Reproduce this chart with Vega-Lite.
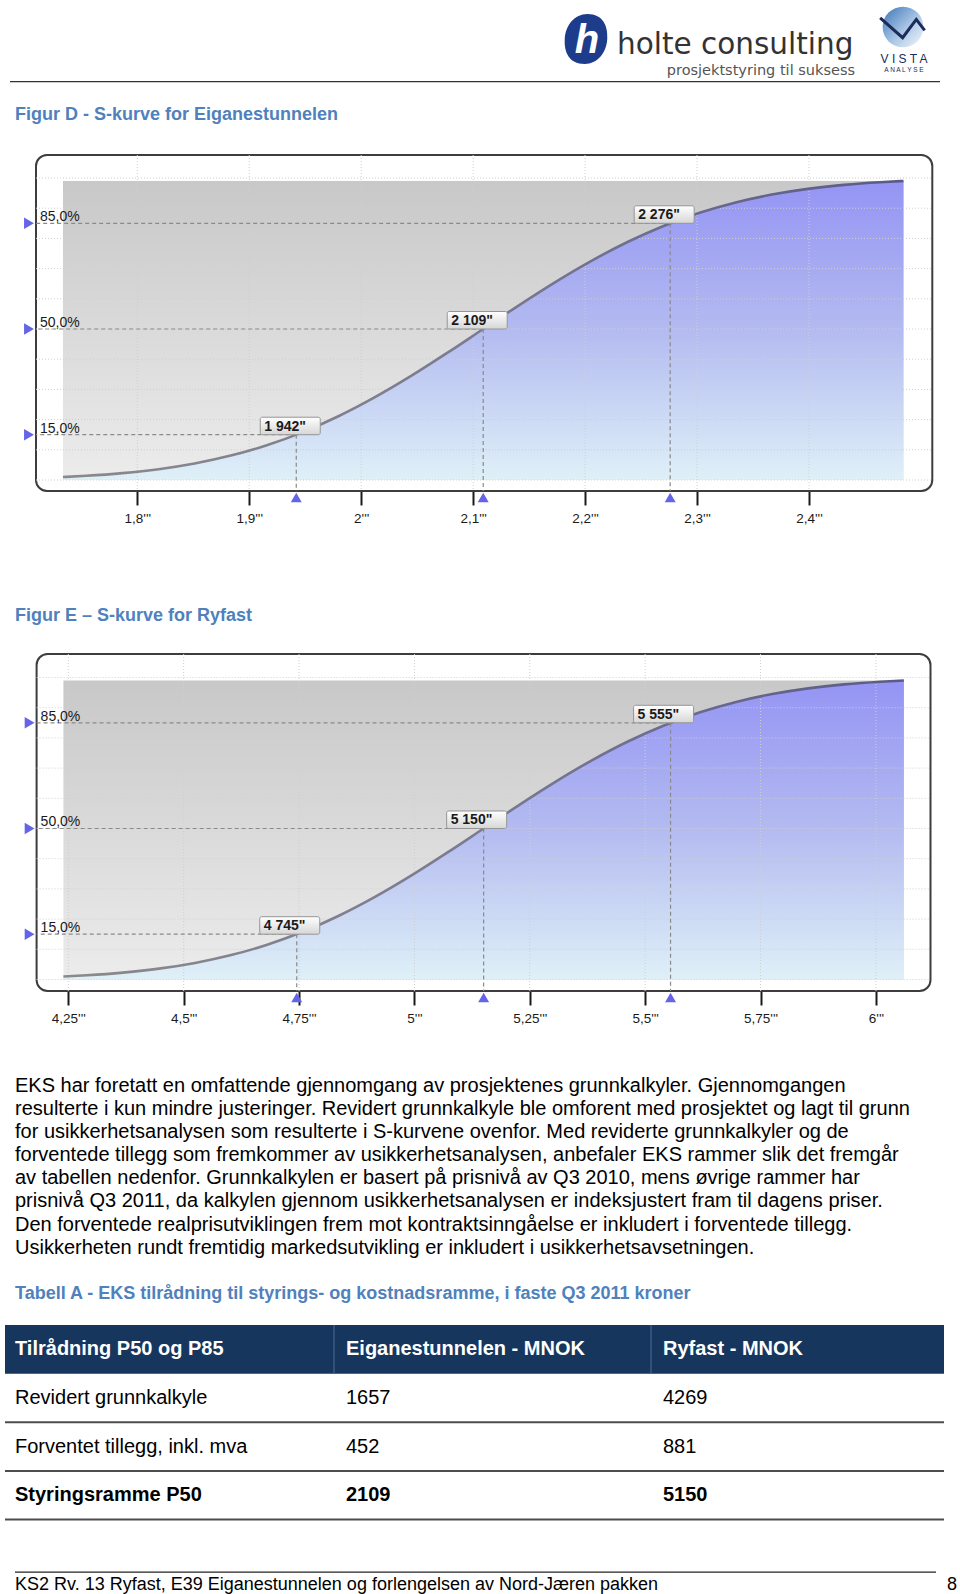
{
"$schema": "https://vega.github.io/schema/vega-lite/v6.json",
"background": "#ffffff",
"padding": 0,
"spacing": 0,
"bounds": "flush",
"config": {"view": {"stroke": null}, "font": "Liberation Sans"},
"datasets": {
  "curveD": [
    {"v":1733.6,"p":0.99},{"v":1754.6,"p":1.39},{"v":1786.8,"p":2.28},{"v":1819.0,"p":3.59},{"v":1851.2,"p":5.48},
    {"v":1883.5,"p":8.08},{"v":1915.7,"p":11.51},{"v":1947.9,"p":15.87},{"v":1980.1,"p":21.19},{"v":2012.3,"p":27.43},
    {"v":2044.6,"p":34.46},{"v":2076.8,"p":42.07},{"v":2109.0,"p":50.0},{"v":2141.2,"p":57.93},{"v":2173.4,"p":65.54},
    {"v":2205.7,"p":72.57},{"v":2237.9,"p":78.81},{"v":2270.1,"p":84.13},{"v":2302.3,"p":88.49},{"v":2334.5,"p":91.92},
    {"v":2366.8,"p":94.52},{"v":2399.0,"p":96.41},{"v":2431.2,"p":97.72},{"v":2463.4,"p":98.61},{"v":2484.4,"p":99.01}
  ],
  "curveE": [
    {"v":4239.4,"p":0.99},{"v":4290.2,"p":1.39},{"v":4368.4,"p":2.28},{"v":4446.6,"p":3.59},{"v":4524.7,"p":5.48},
    {"v":4602.9,"p":8.08},{"v":4681.0,"p":11.51},{"v":4759.2,"p":15.87},{"v":4837.4,"p":21.19},{"v":4915.5,"p":27.43},
    {"v":4993.7,"p":34.46},{"v":5071.8,"p":42.07},{"v":5150.0,"p":50.0},{"v":5228.2,"p":57.93},{"v":5306.3,"p":65.54},
    {"v":5384.5,"p":72.57},{"v":5462.6,"p":78.81},{"v":5540.8,"p":84.13},{"v":5619.0,"p":88.49},{"v":5697.1,"p":91.92},
    {"v":5775.3,"p":94.52},{"v":5853.4,"p":96.41},{"v":5931.6,"p":97.72},{"v":6009.8,"p":98.61},{"v":6060.6,"p":99.01}
  ],
  "markD": [
    {"p":15,"v":1942,"lab":"1 942\"","pl":"15,0%"},
    {"p":50,"v":2109,"lab":"2 109\"","pl":"50,0%"},
    {"p":85,"v":2276,"lab":"2 276\"","pl":"85,0%"}
  ],
  "markE": [
    {"p":15,"v":4745,"lab":"4 745\"","pl":"15,0%"},
    {"p":50,"v":5150,"lab":"5 150\"","pl":"50,0%"},
    {"p":85,"v":5555,"lab":"5 555\"","pl":"85,0%"}
  ],
  "gridY": [{"g":0},{"g":10},{"g":20},{"g":30},{"g":40},{"g":50},{"g":60},{"g":70},{"g":80},{"g":90},{"g":100}],
  "gridXD": [{"t":1800},{"t":1900},{"t":2000},{"t":2100},{"t":2200},{"t":2300},{"t":2400}],
  "gridXE": [{"t":4250},{"t":4500},{"t":4750},{"t":5000},{"t":5250},{"t":5500},{"t":5750},{"t":6000}],
  "para": [
    {"line":1,"t":"EKS har foretatt en omfattende gjennomgang av prosjektenes grunnkalkyler. Gjennomgangen"},
    {"line":2,"t":"resulterte i kun mindre justeringer. Revidert grunnkalkyle ble omforent med prosjektet og lagt til grunn"},
    {"line":3,"t":"for usikkerhetsanalysen som resulterte i S-kurvene ovenfor. Med reviderte grunnkalkyler og de"},
    {"line":4,"t":"forventede tillegg som fremkommer av usikkerhetsanalysen, anbefaler EKS rammer slik det fremgår"},
    {"line":5,"t":"av tabellen nedenfor. Grunnkalkylen er basert på prisnivå av Q3 2010, mens øvrige rammer har"},
    {"line":6,"t":"prisnivå Q3 2011, da kalkylen gjennom usikkerhetsanalysen er indeksjustert fram til dagens priser."},
    {"line":7,"t":"Den forventede realprisutviklingen frem mot kontraktsinngåelse er inkludert i forventede tillegg."},
    {"line":8,"t":"Usikkerheten rundt fremtidig markedsutvikling er inkludert i usikkerhetsavsetningen."}
  ],
  "cells": [
    {"row":"h","col":1,"t":"Tilrådning P50 og P85"},
    {"row":"h","col":2,"t":"Eiganestunnelen - MNOK"},
    {"row":"h","col":3,"t":"Ryfast - MNOK"},
    {"row":"r1","col":1,"t":"Revidert grunnkalkyle"},
    {"row":"r1","col":2,"t":"1657"},
    {"row":"r1","col":3,"t":"4269"},
    {"row":"r2","col":1,"t":"Forventet tillegg, inkl. mva"},
    {"row":"r2","col":2,"t":"452"},
    {"row":"r2","col":3,"t":"881"},
    {"row":"r3","col":1,"t":"Styringsramme P50"},
    {"row":"r3","col":2,"t":"2109"},
    {"row":"r3","col":3,"t":"5150"}
  ]
},
"vconcat": [
  {
    "width": 960, "height": 155,
    "layer": [
      {"data": {"values": [{"logo": "holte"}]},
       "mark": {"type": "point", "shape": "M 0.05 -1 C 0.7 -1 0.88 -0.5 0.85 0 C 0.82 0.55 0.45 1 -0.05 1 C -0.7 1 -0.88 0.5 -0.85 0 C -0.82 -0.55 -0.45 -1 0.05 -1 Z", "filled": true, "size": 2500, "color": "#1d3c8b", "opacity": 1, "x": 586, "y": 39},
       "encoding": {}},
      {"data": {"values": [{"t": "h"}]},
       "mark": {"type": "text", "x": 587, "y": 41, "align": "center", "baseline": "middle", "font": "Liberation Sans", "fontSize": 40, "fontWeight": "bold", "fontStyle": "italic", "color": "#ffffff"},
       "encoding": {"text": {"field": "t"}}},
      {"data": {"values": [{"t": "holte consulting"}]},
       "mark": {"type": "text", "x": 617, "y": 53.5, "align": "left", "baseline": "alphabetic", "font": "DejaVu Sans", "fontSize": 29.5, "color": "#333333"},
       "encoding": {"text": {"field": "t"}}},
      {"data": {"values": [{"t": "prosjektstyring til suksess"}]},
       "mark": {"type": "text", "x": 855, "y": 74.5, "align": "right", "baseline": "alphabetic", "font": "DejaVu Sans", "fontSize": 14.5, "color": "#555555"},
       "encoding": {"text": {"field": "t"}}},
      {"data": {"values": [{"logo": "vista"}]},
       "mark": {"type": "point", "shape": "circle", "filled": true, "size": 1660, "opacity": 1, "x": 903, "y": 27,
                "fill": {"gradient": "linear", "x1": 0, "y1": 0, "x2": 1, "y2": 1, "stops": [{"offset": 0, "color": "#3a74b8"}, {"offset": 0.55, "color": "#aac6e5"}, {"offset": 1, "color": "#f6f9fc"}]}},
       "encoding": {}},
      {"data": {"values": [{"logo": "va"}]},
       "mark": {"type": "point", "shape": "M -1.04 -0.44 L 0.03 0.51 L 0.68 -0.36 L 1.08 0.16", "filled": false, "size": 1764, "color": "#1c2b5a", "strokeWidth": 3, "opacity": 1, "x": 902, "y": 27},
       "encoding": {}},
      {"data": {"values": [{"t": "V I S T A"}]},
       "mark": {"type": "text", "x": 904, "y": 63, "align": "center", "baseline": "alphabetic", "font": "Liberation Sans", "fontSize": 12, "color": "#1c2b5a"},
       "encoding": {"text": {"field": "t"}}},
      {"data": {"values": [{"t": "A N A L Y S E"}]},
       "mark": {"type": "text", "x": 904, "y": 72, "align": "center", "baseline": "alphabetic", "font": "Liberation Sans", "fontSize": 6.5, "color": "#1c2b5a"},
       "encoding": {"text": {"field": "t"}}},
      {"data": {"values": [{"part": "headerline"}]},
       "mark": {"type": "rect", "fill": "#333333"},
       "encoding": {"x": {"value": 10}, "x2": {"value": 940}, "y": {"value": 81}, "y2": {"value": 82.3}}},
      {"data": {"values": [{"t": "Figur D - S-kurve for Eiganestunnelen"}]},
       "mark": {"type": "text", "x": 15, "y": 115, "align": "left", "baseline": "middle", "font": "Liberation Sans", "fontSize": 18, "fontWeight": "bold", "color": "#4f81bd"},
       "encoding": {"text": {"field": "t"}}}
    ]
  },
  {
    "width": 960, "height": 336,
    "layer": [
      {"data": {"name": "curveD"},
       "mark": {"type": "area", "opacity": 0},
       "encoding": {
         "x": {"field": "v", "type": "quantitative", "title": null,
               "scale": {"domain": [1677.36, 2534.89], "nice": false, "zero": false},
               "axis": {"values": [1800, 1900, 2000, 2100, 2200, 2300, 2400], "labelExpr": "replace(format(datum.value / 1000, '~g'), '.', ',') + \"'''\"", "domain": false, "grid": false, "tickSize": 14, "tickWidth": 2, "tickColor": "#1a1a1a", "labelFont": "Liberation Sans", "labelFontSize": 13.5, "labelColor": "#1a1a1a", "labelPadding": 6, "title": null, "labelOverlap": false, "labelFlush": false}},
         "y": {"field": "p", "type": "quantitative", "title": null, "scale": {"domain": [-3.64, 107.62], "nice": false, "zero": false}, "axis": null}
       }},
      {"data": {"values": [{"part": "frame"}]},
       "mark": {"type": "rect", "fill": "#ffffff", "stroke": "#3d3d3d", "strokeWidth": 2, "cornerRadius": 11},
       "encoding": {"x": {"value": 36}, "x2": {"value": 932.3}, "y": {"value": 0}, "y2": {"value": 336}}},
      {"data": {"name": "curveD"},
       "transform": [{"aggregate": [{"op": "min", "field": "v", "as": "lo"}, {"op": "max", "field": "v", "as": "hi"}, {"op": "max", "field": "p", "as": "top"}]}],
       "mark": {"type": "rect", "fill": {"gradient": "linear", "x1": 0, "y1": 0, "x2": 0, "y2": 1, "stops": [{"offset": 0, "color": "#c8c8c8"}, {"offset": 1, "color": "#ececec"}]}},
       "encoding": {"x": {"field": "lo", "type": "quantitative", "title": null}, "x2": {"field": "hi"}, "y": {"field": "top", "type": "quantitative", "title": null, "axis": null}, "y2": {"value": 325}}},
      {"data": {"name": "curveD"},
       "mark": {"type": "area", "interpolate": "monotone", "fill": {"gradient": "linear", "x1": 0, "y1": 0, "x2": 0, "y2": 1, "stops": [{"offset": 0, "color": "#9494f4"}, {"offset": 0.5, "color": "#b3bbf0"}, {"offset": 1, "color": "#dff0f8"}]}},
       "encoding": {"x": {"field": "v", "type": "quantitative", "title": null}, "y": {"field": "p", "type": "quantitative", "title": null, "axis": null}}},
      {"data": {"name": "gridXD"},
       "mark": {"type": "rule", "stroke": "#cfcfcf", "strokeDash": [1, 2], "strokeWidth": 1},
       "encoding": {"x": {"field": "t", "type": "quantitative", "title": null}}},
      {"data": {"name": "gridY"},
       "mark": {"type": "rule", "stroke": "#cfcfcf", "strokeDash": [1, 2], "strokeWidth": 1},
       "encoding": {"y": {"field": "g", "type": "quantitative", "title": null, "axis": null}, "x": {"value": 36}, "x2": {"value": 932.3}}},
      {"data": {"name": "curveD"},
       "mark": {"type": "line", "interpolate": "monotone", "strokeWidth": 2.6, "stroke": {"gradient": "linear", "x1": 0, "y1": 0, "x2": 1, "y2": 0, "stops": [{"offset": 0, "color": "#8a8a8a"}, {"offset": 0.5, "color": "#7a7a92"}, {"offset": 1, "color": "#5a5a88"}]}},
       "encoding": {"x": {"field": "v", "type": "quantitative", "title": null}, "y": {"field": "p", "type": "quantitative", "title": null, "axis": null}}},
      {"data": {"name": "markD"},
       "mark": {"type": "rule", "stroke": "#8a8a8a", "strokeDash": [4, 3], "strokeWidth": 1.2},
       "encoding": {"x": {"field": "v", "type": "quantitative", "title": null}, "x2": {"value": 36}, "y": {"field": "p", "type": "quantitative", "title": null, "axis": null}}},
      {"data": {"name": "markD"},
       "mark": {"type": "rule", "stroke": "#8a8a8a", "strokeDash": [4, 3], "strokeWidth": 1.2},
       "encoding": {"x": {"field": "v", "type": "quantitative", "title": null}, "y": {"field": "p", "type": "quantitative", "title": null, "axis": null}, "y2": {"value": 336}}},
      {"data": {"name": "markD"},
       "mark": {"type": "point", "shape": "triangle-right", "filled": true, "size": 130, "color": "#6464e8", "opacity": 1},
       "encoding": {"x": {"value": 29}, "y": {"field": "p", "type": "quantitative", "title": null, "axis": null}}},
      {"data": {"name": "markD"},
       "mark": {"type": "point", "shape": "triangle-up", "filled": true, "size": 120, "color": "#6464e8", "opacity": 1},
       "encoding": {"x": {"field": "v", "type": "quantitative", "title": null}, "y": {"value": 342.5}}},
      {"data": {"name": "markD"},
       "mark": {"type": "text", "align": "left", "baseline": "alphabetic", "dy": -2, "font": "Liberation Sans", "fontSize": 14, "color": "#1a1a1a"},
       "encoding": {"x": {"value": 40}, "y": {"field": "p", "type": "quantitative", "title": null, "axis": null}, "text": {"field": "pl"}}},
      {"data": {"name": "markD"},
       "mark": {"type": "rect", "stroke": "#959595", "strokeWidth": 1, "cornerRadius": 2, "xOffset": -36, "x2Offset": 24, "yOffset": -17.5, "y2Offset": 0,
                "fill": {"gradient": "linear", "x1": 0, "y1": 0, "x2": 0, "y2": 1, "stops": [{"offset": 0, "color": "#ffffff"}, {"offset": 1, "color": "#d6d6d6"}]}},
       "encoding": {"x": {"field": "v", "type": "quantitative", "title": null}, "x2": {"field": "v"}, "y": {"field": "p", "type": "quantitative", "title": null, "axis": null}, "y2": {"field": "p"}}},
      {"data": {"name": "markD"},
       "mark": {"type": "text", "align": "left", "baseline": "alphabetic", "dx": -32, "dy": -4, "font": "Liberation Sans", "fontSize": 14, "fontWeight": "bold", "color": "#1a1a1a"},
       "encoding": {"x": {"field": "v", "type": "quantitative", "title": null}, "y": {"field": "p", "type": "quantitative", "title": null, "axis": null}, "text": {"field": "lab"}}}
    ]
  },
  {
    "width": 960, "height": 163,
    "data": {"values": [{"t": "Figur E – S-kurve for Ryfast"}]},
    "mark": {"type": "text", "x": 15, "y": 125.3, "align": "left", "baseline": "middle", "font": "Liberation Sans", "fontSize": 18, "fontWeight": "bold", "color": "#4f81bd"},
    "encoding": {"text": {"field": "t"}}
  },
  {
    "width": 960, "height": 337,
    "layer": [
      {"data": {"name": "curveE"},
       "mark": {"type": "area", "opacity": 0},
       "encoding": {
         "x": {"field": "v", "type": "quantitative", "title": null,
               "scale": {"domain": [4102.0, 6182.2], "nice": false, "zero": false},
               "axis": {"values": [4250, 4500, 4750, 5000, 5250, 5500, 5750, 6000], "labelExpr": "replace(format(datum.value / 1000, '~g'), '.', ',') + \"'''\"", "domain": false, "grid": false, "tickSize": 14, "tickWidth": 2, "tickColor": "#1a1a1a", "labelFont": "Liberation Sans", "labelFontSize": 13.5, "labelColor": "#1a1a1a", "labelPadding": 6, "title": null, "labelOverlap": false, "labelFlush": false}},
         "y": {"field": "p", "type": "quantitative", "title": null, "scale": {"domain": [-3.81, 107.78], "nice": false, "zero": false}, "axis": null}
       }},
      {"data": {"values": [{"part": "frame"}]},
       "mark": {"type": "rect", "fill": "#ffffff", "stroke": "#3d3d3d", "strokeWidth": 2, "cornerRadius": 11},
       "encoding": {"x": {"value": 36.6}, "x2": {"value": 930.5}, "y": {"value": 0}, "y2": {"value": 337}}},
      {"data": {"name": "curveE"},
       "transform": [{"aggregate": [{"op": "min", "field": "v", "as": "lo"}, {"op": "max", "field": "v", "as": "hi"}, {"op": "max", "field": "p", "as": "top"}]}],
       "mark": {"type": "rect", "fill": {"gradient": "linear", "x1": 0, "y1": 0, "x2": 0, "y2": 1, "stops": [{"offset": 0, "color": "#c8c8c8"}, {"offset": 1, "color": "#ececec"}]}},
       "encoding": {"x": {"field": "lo", "type": "quantitative", "title": null}, "x2": {"field": "hi"}, "y": {"field": "top", "type": "quantitative", "title": null, "axis": null}, "y2": {"value": 325.5}}},
      {"data": {"name": "curveE"},
       "mark": {"type": "area", "interpolate": "monotone", "fill": {"gradient": "linear", "x1": 0, "y1": 0, "x2": 0, "y2": 1, "stops": [{"offset": 0, "color": "#9494f4"}, {"offset": 0.5, "color": "#b3bbf0"}, {"offset": 1, "color": "#dff0f8"}]}},
       "encoding": {"x": {"field": "v", "type": "quantitative", "title": null}, "y": {"field": "p", "type": "quantitative", "title": null, "axis": null}}},
      {"data": {"name": "gridXE"},
       "mark": {"type": "rule", "stroke": "#cfcfcf", "strokeDash": [1, 2], "strokeWidth": 1},
       "encoding": {"x": {"field": "t", "type": "quantitative", "title": null}}},
      {"data": {"name": "gridY"},
       "mark": {"type": "rule", "stroke": "#cfcfcf", "strokeDash": [1, 2], "strokeWidth": 1},
       "encoding": {"y": {"field": "g", "type": "quantitative", "title": null, "axis": null}, "x": {"value": 36.6}, "x2": {"value": 930.5}}},
      {"data": {"name": "curveE"},
       "mark": {"type": "line", "interpolate": "monotone", "strokeWidth": 2.6, "stroke": {"gradient": "linear", "x1": 0, "y1": 0, "x2": 1, "y2": 0, "stops": [{"offset": 0, "color": "#8a8a8a"}, {"offset": 0.5, "color": "#7a7a92"}, {"offset": 1, "color": "#5a5a88"}]}},
       "encoding": {"x": {"field": "v", "type": "quantitative", "title": null}, "y": {"field": "p", "type": "quantitative", "title": null, "axis": null}}},
      {"data": {"name": "markE"},
       "mark": {"type": "rule", "stroke": "#8a8a8a", "strokeDash": [4, 3], "strokeWidth": 1.2},
       "encoding": {"x": {"field": "v", "type": "quantitative", "title": null}, "x2": {"value": 36.6}, "y": {"field": "p", "type": "quantitative", "title": null, "axis": null}}},
      {"data": {"name": "markE"},
       "mark": {"type": "rule", "stroke": "#8a8a8a", "strokeDash": [4, 3], "strokeWidth": 1.2},
       "encoding": {"x": {"field": "v", "type": "quantitative", "title": null}, "y": {"field": "p", "type": "quantitative", "title": null, "axis": null}, "y2": {"value": 337}}},
      {"data": {"name": "markE"},
       "mark": {"type": "point", "shape": "triangle-right", "filled": true, "size": 130, "color": "#6464e8", "opacity": 1},
       "encoding": {"x": {"value": 29.6}, "y": {"field": "p", "type": "quantitative", "title": null, "axis": null}}},
      {"data": {"name": "markE"},
       "mark": {"type": "point", "shape": "triangle-up", "filled": true, "size": 120, "color": "#6464e8", "opacity": 1},
       "encoding": {"x": {"field": "v", "type": "quantitative", "title": null}, "y": {"value": 343.5}}},
      {"data": {"name": "markE"},
       "mark": {"type": "text", "align": "left", "baseline": "alphabetic", "dy": -2, "font": "Liberation Sans", "fontSize": 14, "color": "#1a1a1a"},
       "encoding": {"x": {"value": 40.6}, "y": {"field": "p", "type": "quantitative", "title": null, "axis": null}, "text": {"field": "pl"}}},
      {"data": {"name": "markE"},
       "mark": {"type": "rect", "stroke": "#959595", "strokeWidth": 1, "cornerRadius": 2, "xOffset": -37, "x2Offset": 23, "yOffset": -17.5, "y2Offset": 0,
                "fill": {"gradient": "linear", "x1": 0, "y1": 0, "x2": 0, "y2": 1, "stops": [{"offset": 0, "color": "#ffffff"}, {"offset": 1, "color": "#d6d6d6"}]}},
       "encoding": {"x": {"field": "v", "type": "quantitative", "title": null}, "x2": {"field": "v"}, "y": {"field": "p", "type": "quantitative", "title": null, "axis": null}, "y2": {"field": "p"}}},
      {"data": {"name": "markE"},
       "mark": {"type": "text", "align": "left", "baseline": "alphabetic", "dx": -33, "dy": -4, "font": "Liberation Sans", "fontSize": 14, "fontWeight": "bold", "color": "#1a1a1a"},
       "encoding": {"x": {"field": "v", "type": "quantitative", "title": null}, "y": {"field": "p", "type": "quantitative", "title": null, "axis": null}, "text": {"field": "lab"}}}
    ]
  },
  {
    "width": 960, "height": 333.5,
    "layer": [
      {"data": {"name": "para"},
       "mark": {"type": "text", "x": 15, "align": "left", "baseline": "middle", "font": "Liberation Sans", "fontSize": 20, "color": "#000000"},
       "encoding": {"y": {"field": "line", "type": "quantitative", "scale": {"domain": [-3.113, 11.325], "reverse": true, "nice": false, "zero": false}, "axis": null}, "text": {"field": "t"}}},
      {"data": {"values": [{"line": 10, "t": "Tabell A - EKS tilrådning til styrings- og kostnadsramme, i faste Q3 2011 kroner"}]},
       "mark": {"type": "text", "x": 15, "align": "left", "baseline": "middle", "font": "Liberation Sans", "fontSize": 18, "fontWeight": "bold", "color": "#4f81bd"},
       "encoding": {"y": {"field": "line", "type": "quantitative", "axis": null}, "text": {"field": "t"}}}
    ]
  },
  {
    "width": 960, "height": 194.5,
    "layer": [
      {"data": {"values": [{"row": "h"}]},
       "mark": {"type": "rect", "fill": "#17365d"},
       "encoding": {"x": {"value": 5}, "x2": {"value": 944}, "y": {"field": "row", "type": "nominal", "scale": {"domain": ["h", "r1", "r2", "r3"], "paddingInner": 0, "paddingOuter": 0}, "axis": null}}},
      {"data": {"values": [{"row": "h", "col": 2}, {"row": "h", "col": 3}]},
       "mark": {"type": "rule", "stroke": "#3e5a84", "strokeWidth": 1.5, "xOffset": -12},
       "encoding": {"x": {"field": "col", "type": "quantitative", "scale": {"domain": [1, 2, 3], "range": [15, 346, 663], "nice": false, "zero": false}, "axis": null}, "y": {"value": 0}, "y2": {"value": 48}}},
      {"data": {"values": [{"row": "r1"}, {"row": "r2"}, {"row": "r3"}]},
       "mark": {"type": "rule", "stroke": "#4d4d4d", "strokeWidth": 2},
       "encoding": {"x": {"value": 5}, "x2": {"value": 944}, "y": {"field": "row", "type": "nominal", "bandPosition": 1, "axis": null}}},
      {"data": {"name": "cells"},
       "transform": [{"filter": "datum.row === 'h'"}],
       "mark": {"type": "text", "align": "left", "baseline": "middle", "font": "Liberation Sans", "fontSize": 20, "fontWeight": "bold", "color": "#ffffff"},
       "encoding": {"x": {"field": "col", "type": "quantitative", "axis": null}, "y": {"field": "row", "type": "nominal", "axis": null}, "text": {"field": "t"}}},
      {"data": {"name": "cells"},
       "transform": [{"filter": "datum.row === 'r1' || datum.row === 'r2'"}],
       "mark": {"type": "text", "align": "left", "baseline": "middle", "font": "Liberation Sans", "fontSize": 20, "color": "#000000"},
       "encoding": {"x": {"field": "col", "type": "quantitative", "axis": null}, "y": {"field": "row", "type": "nominal", "axis": null}, "text": {"field": "t"}}},
      {"data": {"name": "cells"},
       "transform": [{"filter": "datum.row === 'r3'"}],
       "mark": {"type": "text", "align": "left", "baseline": "middle", "font": "Liberation Sans", "fontSize": 20, "fontWeight": "bold", "color": "#000000"},
       "encoding": {"x": {"field": "col", "type": "quantitative", "axis": null}, "y": {"field": "row", "type": "nominal", "axis": null}, "text": {"field": "t"}}}
    ]
  },
  {
    "width": 960, "height": 75,
    "layer": [
      {"data": {"values": [{"part": "footerline"}]},
       "mark": {"type": "rect", "fill": "#222222"},
       "encoding": {"x": {"value": 15}, "x2": {"value": 936}, "y": {"value": 51.4}, "y2": {"value": 52.7}}},
      {"data": {"values": [{"t": "KS2 Rv. 13 Ryfast, E39 Eiganestunnelen og forlengelsen av Nord-Jæren pakken"}]},
       "mark": {"type": "text", "x": 15, "y": 64.5, "align": "left", "baseline": "middle", "font": "Liberation Sans", "fontSize": 18, "color": "#000000"},
       "encoding": {"text": {"field": "t"}}},
      {"data": {"values": [{"t": "8"}]},
       "mark": {"type": "text", "x": 957, "y": 64.5, "align": "right", "baseline": "middle", "font": "Liberation Sans", "fontSize": 18, "color": "#000000"},
       "encoding": {"text": {"field": "t"}}}
    ]
  }
]
}
